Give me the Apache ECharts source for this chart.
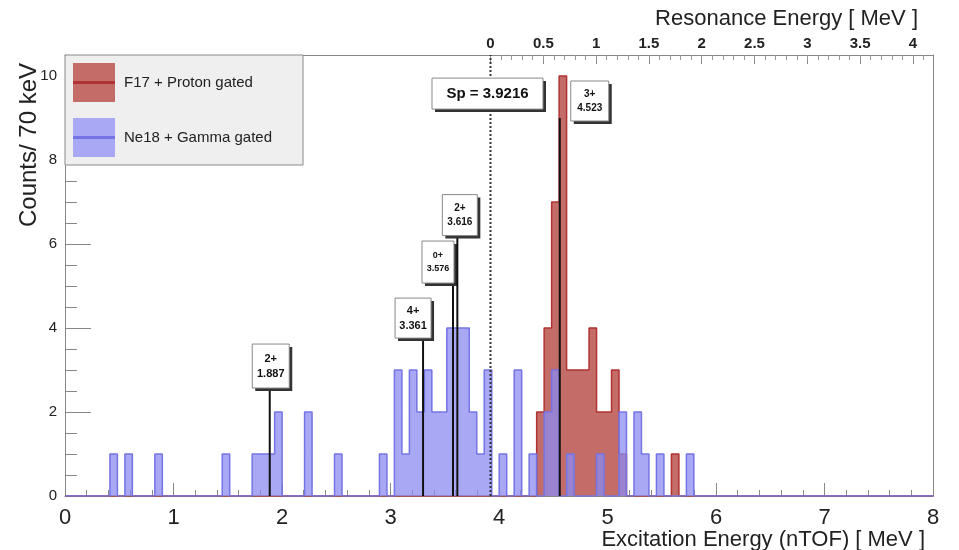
<!DOCTYPE html>
<html>
<head>
<meta charset="utf-8">
<script src="https://cdn.jsdelivr.net/npm/echarts@6/dist/echarts.min.js"></script>
<style>
html,body{margin:0;padding:0;background:#fff}
#chart{width:959px;height:550px}
</style>
</head>
<body>
<div id="chart"></div>
<script>
// histogram binning
const BIN_W = 0.069
const N_BINS = 116
const SP = 3.9216

// F17 + proton gated: bin index -> counts
const redBins   = [63,64,65,66,67,68,69,70,71,72,73,74,81]
const redCounts = [2,4,7,10,3,3,3,4,2,2,3,1,1]
// Ne18 + gamma gated
const blueBins   = [6,8,12,21,25,26,27,28,32,36,42,44,45,46,47,48,49,50,51,52,53,54,55,56,58,60,62,64,65,67,71,74,76,77,79,83]
const blueCounts = [1,1,1,1,1,1,1,2,2,1,1,3,1,3,2,3,2,2,4,4,4,2,1,3,1,3,1,2,3,1,1,2,2,1,1,1]

// level markers
const stateSpin   = ['2+','4+','0+','2+','3+']
const stateEnergy = ['1.887','3.361','3.576','3.616','4.523']
const stateLineX  = [1.887,3.30,3.576,3.616,4.56]   // where the lines are drawn
const stateLineTop = [2.57,3.76,5.07,6.2,9.0]

// top axis labels (resonance energy)
const resLabels = [0,0.5,1,1.5,2,2.5,3,3.5,4]

// box layout for the markers: [dx, dy, w, h, fontSize]
const boxLayout = [
  [-17.5,-44,37,44,11],
  [-28,-40,36,40,11],
  [-31,-42,32,42,9],
  [-15,-41,35,41,10],
  [11,-37,38,40,10]
]

const FONT = 'Liberation Sans, Arial, sans-serif'

function hist(bins, counts){
  let c = new Array(N_BINS).fill(0)
  bins.forEach((b,i)=>{ c[b] = counts[i] })
  let pts = c.map((v,k)=>[+(k*BIN_W).toFixed(4), v])
  pts.push([+(N_BINS*BIN_W).toFixed(4), 0])
  return pts
}

let minorRes = []
for(let i=0;i<=41;i++){ minorRes.push(+(i*0.1).toFixed(1)) }

let myChart = echarts.init(document.getElementById('chart'))
myChart.setOption({
  animation: false,
  grid: {left: 65, right: 26, top: 55, bottom: 54},
  xAxis: [
    {
      type: 'value', min: 0, max: 8, interval: 1, position: 'bottom',
      axisLine: {show: true, onZero: false, lineStyle: {color: '#888'}},
      axisTick: {inside: true, length: 13, lineStyle: {color: '#888'}},
      minorTick: {show: true, splitNumber: 5, length: 6, lineStyle: {color: '#888'}},
      splitLine: {show: false},
      axisLabel: {fontSize: 22, color: '#222', margin: 11, fontFamily: FONT}
    },
    {
      type: 'value', min: -4.029, max: 4.19, position: 'top',
      axisLine: {show: true, onZero: false, lineStyle: {color: '#888'}},
      axisTick: {inside: true, length: 9, customValues: resLabels, lineStyle: {color: '#888'}},
      splitLine: {show: false},
      axisLabel: {customValues: resLabels, fontSize: 15, fontWeight: 'bold', color: '#222', margin: 4, fontFamily: FONT}
    },
    {
      type: 'value', min: -4.029, max: 4.19, position: 'top',
      axisLine: {show: false, onZero: false},
      axisTick: {inside: true, length: 5, customValues: minorRes, lineStyle: {color: '#999'}},
      splitLine: {show: false},
      axisLabel: {show: false}
    }
  ],
  yAxis: [
    {
      type: 'value', min: 0, max: 10.5, interval: 2,
      axisLine: {show: true, onZero: false, lineStyle: {color: '#888'}},
      axisTick: {inside: true, length: 26, lineStyle: {color: '#888'}},
      minorTick: {show: true, splitNumber: 4, length: 12, lineStyle: {color: '#888'}},
      splitLine: {show: false},
      axisLabel: {fontSize: 15, color: '#222', margin: 8, fontFamily: FONT, showMaxLabel: false}
    },
    {
      type: 'value', min: 0, max: 10.5, position: 'right',
      axisLine: {show: true, onZero: false, lineStyle: {color: '#888'}},
      axisTick: {show: false}, axisLabel: {show: false}, splitLine: {show: false}
    }
  ],
  series: [
    {
      name: 'F17 + Proton gated', type: 'line', step: 'end', z: 2,
      data: hist(redBins, redCounts), showSymbol: false, symbol: 'none',
      lineStyle: {color: '#b03232', width: 1.5},
      areaStyle: {color: '#c46c68', opacity: 1}
    },
    {
      name: 'Ne18 + Gamma gated', type: 'line', step: 'end', z: 3,
      data: hist(blueBins, blueCounts), showSymbol: false, symbol: 'none',
      lineStyle: {color: '#7474e4', width: 1.5},
      areaStyle: {color: 'rgba(139,139,240,0.75)', opacity: 1}
    },
    {
      type: 'custom', z: 5, clip: false,
      data: stateLineX.map((x,i)=>[x, stateLineTop[i], i]),
      renderItem: function(params, api){
        let i = api.value(2)
        let base = api.coord([api.value(0), 0])
        let top = api.coord([api.value(0), api.value(1)])
        let b = boxLayout[i]
        let bx = top[0]+b[0], by = top[1]+b[1]
        return {type: 'group', children: [
          {type: 'line', shape: {x1: base[0], y1: base[1], x2: top[0], y2: top[1]}, style: {stroke: '#111', lineWidth: 2}},
          {type: 'rect', shape: {x: bx+3, y: by+3, width: b[2], height: b[3]}, style: {fill: '#333'}},
          {type: 'rect', shape: {x: bx, y: by, width: b[2], height: b[3]}, style: {fill: '#fff', stroke: '#888', lineWidth: 1}},
          {type: 'text', style: {text: stateSpin[i] + '\n' + stateEnergy[i], x: bx+b[2]/2, y: by+b[3]/2,
            align: 'center', verticalAlign: 'middle', fontFamily: FONT, fontWeight: 'bold',
            fontSize: b[4], lineHeight: b[4]+4, fill: '#111'}}
        ]}
      }
    },
    {
      type: 'custom', z: 6, clip: false,
      data: [[SP, 9.95]],
      renderItem: function(params, api){
        let base = api.coord([api.value(0), 0])
        let top = api.coord([api.value(0), 10.5])
        let p = api.coord([api.value(0), api.value(1)])
        let bx = p[0]-58.5, by = p[1]
        return {type: 'group', children: [
          {type: 'line', shape: {x1: base[0], y1: base[1], x2: top[0], y2: top[1]}, style: {stroke: '#333', lineWidth: 2, lineDash: [2,2]}},
          {type: 'rect', shape: {x: bx+3, y: by+3, width: 111, height: 31}, style: {fill: '#333'}},
          {type: 'rect', shape: {x: bx, y: by, width: 111, height: 31}, style: {fill: '#fff', stroke: '#888', lineWidth: 1}},
          {type: 'text', style: {text: 'Sp = ' + SP, x: bx+55.5, y: by+15.5, align: 'center', verticalAlign: 'middle',
            fontFamily: FONT, fontWeight: 'bold', fontSize: 15, fill: '#111'}}
        ]}
      }
    }
  ],
  graphic: [
    {type: 'rect', z: 10, shape: {x: 65, y: 55, width: 238, height: 110}, style: {fill: '#efefef', stroke: '#8a8a8a', lineWidth: 1}},
    {type: 'rect', z: 11, shape: {x: 73, y: 63, width: 42, height: 39}, style: {fill: '#c46c68'}},
    {type: 'line', z: 12, shape: {x1: 73, y1: 82.5, x2: 115, y2: 82.5}, style: {stroke: '#b03232', lineWidth: 3}},
    {type: 'text', z: 12, style: {text: 'F17 + Proton gated', x: 124, y: 83, verticalAlign: 'middle', fontFamily: FONT, fontSize: 15, fill: '#222'}},
    {type: 'rect', z: 11, shape: {x: 73, y: 118, width: 42, height: 39}, style: {fill: '#a8a8f4'}},
    {type: 'line', z: 12, shape: {x1: 73, y1: 137.5, x2: 115, y2: 137.5}, style: {stroke: '#7474e4', lineWidth: 3}},
    {type: 'text', z: 12, style: {text: 'Ne18 + Gamma gated', x: 124, y: 138, verticalAlign: 'middle', fontFamily: FONT, fontSize: 15, fill: '#222'}},
    {type: 'text', style: {text: 'Resonance Energy [ MeV ]', x: 918, y: 19, align: 'right', verticalAlign: 'middle', fontFamily: FONT, fontSize: 22, fill: '#222'}},
    {type: 'text', style: {text: 'Excitation Energy (nTOF) [ MeV ]', x: 925, y: 540, align: 'right', verticalAlign: 'middle', fontFamily: FONT, fontSize: 22, fill: '#222'}},
    {type: 'text', rotation: Math.PI/2, x: 29, y: 145, style: {text: 'Counts/ 70 keV', x: 0, y: 0, align: 'center', verticalAlign: 'middle', fontFamily: FONT, fontSize: 24, fill: '#222'}}
  ]
})
</script>
</body>
</html>
